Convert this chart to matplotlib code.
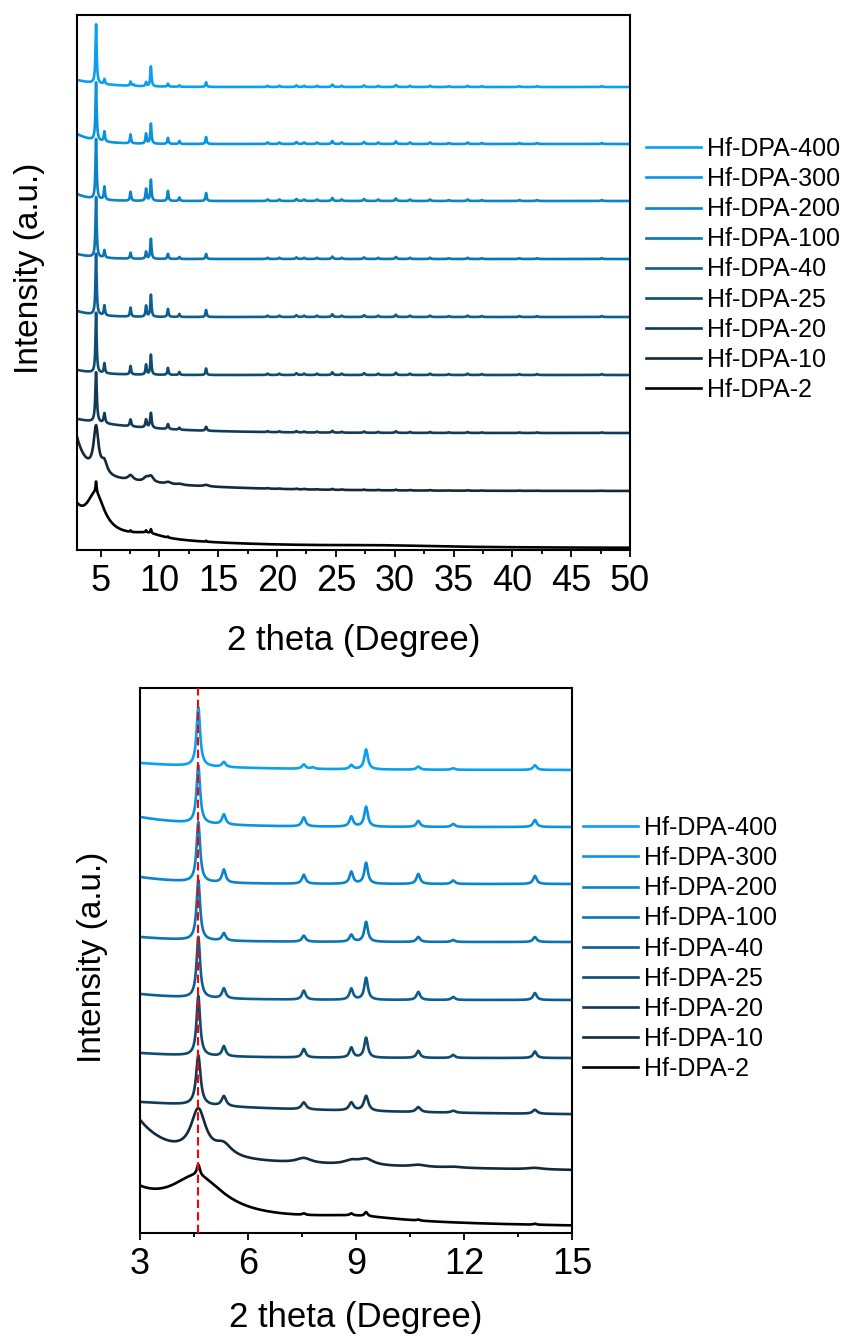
import numpy as np
import matplotlib
matplotlib.use('Agg')
import matplotlib.pyplot as plt
from matplotlib.ticker import MultipleLocator

plt.rcParams['font.family'] = ['Liberation Sans', 'DejaVu Sans']

# samples, top of the stack first
samples = ['Hf-DPA-400', 'Hf-DPA-300', 'Hf-DPA-200', 'Hf-DPA-100', 'Hf-DPA-40',
           'Hf-DPA-25', 'Hf-DPA-20', 'Hf-DPA-10', 'Hf-DPA-2']
colors = ['#0AA0F0', '#0994E2', '#0A84CC', '#0B74B2', '#0C5F90',
          '#0E4C72', '#123B58', '#14293A', '#000000']

# flat level at high angle and low-angle rise
base = [463, 406, 349, 291, 233, 175, 117, 59, 2]
low_amp = [7, 10, 7, 5, 6, 5, 14, 35, 20]
low_tau = [2.5, 1.6, 1.3, 1.6, 1.6, 2.0, 6.0, 0.8, 0.9]
slow_amp = [0, 0, 0, 0, 0, 0, 0, 18, 16]
slow_tau = [1, 1, 1, 1, 1, 1, 1, 8, 10]

# low-angle reflections (deg) and heights per sample
peak_pos = [4.62, 5.33, 7.55, 7.80, 8.87, 9.28, 10.73, 11.70, 13.97]
peak_h = [
    [59, 5, 4.3, 1.5, 4, 20, 3, 1.5, 4.7],
    [58, 10, 9, 0, 10, 20, 6, 3, 7],
    [60, 13, 9, 0, 12, 21, 10, 3.5, 8],
    [60, 7.5, 6, 0, 7, 20, 5, 2, 5],
    [61, 10, 9, 0, 11, 22, 8, 3, 7],
    [60, 10, 8.5, 0, 10, 20, 7, 3, 6.5],
    [50, 10, 7, 0, 8, 15, 5, 2, 4],
    [44.6, 6, 5, 0, 4, 6, 2, 1, 1.5],
    [11, 0, 1.5, 0, 2, 4, 1, 0, 1],
]
peak_w = [0.06, 0.06, 0.06, 0.06, 0.06, 0.06, 0.075, 0.25, 0.05]

# weak high-angle reflections
hi_pos = [19.2, 20.2, 21.65, 22.3, 23.4, 24.7, 25.5, 27.4, 28.6, 30.1, 31.3,
          33.0, 34.6, 36.2, 37.4, 40.6, 42.1, 47.6]
hi_h = [1.5, 1.5, 2, 1.5, 1.5, 3, 1.5, 2, 1.5, 2.5, 1.5, 1.5, 1, 1.5, 1, 1, 1, 1]
hi_scale = [0.8, 1.0, 1.0, 0.8, 0.9, 0.9, 0.6, 0.3, 0.0]

# broad amorphous humps (centre, height, half width) for the two lowest samples
humps = {
    7: [(5.3, 6, 0.35)],
    8: [(4.6, 38, 0.9), (9.0, 5, 1.5), (29.0, 1.5, 6.0)],
}

ref_line = 4.62


def lor(x, p, h, w):
    return h / (1 + ((x - p) / w) ** 2)


def pattern(i, x):
    y = base[i] + low_amp[i] * np.exp(-(x - 3) / low_tau[i])
    y = y + slow_amp[i] * np.exp(-(x - 3) / slow_tau[i])
    for p, h in zip(peak_pos, peak_h[i]):
        y = y + lor(x, p, h, peak_w[i])
    for p, h in zip(hi_pos, hi_h):
        y = y + lor(x, p, h * hi_scale[i], 0.08)
    for p, h, w in humps.get(i, []):
        y = y + lor(x, p, h, w)
    return y


fig = plt.figure(figsize=(8.42, 13.38), dpi=100)
ax1 = fig.add_axes([77 / 842, 1 - 550 / 1338, 553 / 842, 535 / 1338])
ax2 = fig.add_axes([140 / 842, 1 - 1233 / 1338, 432 / 842, 545 / 1338])

x1 = np.linspace(3, 50, 4701)
x2 = np.linspace(3, 15, 2401)
lines = []
for i in range(len(samples)):
    l, = ax1.plot(x1, pattern(i, x1), color=colors[i], lw=1.9, label=samples[i])
    ax2.plot(x2, pattern(i, x2), color=colors[i], lw=1.9)
    lines.append(l)

ax2.axvline(ref_line, color='red', lw=1.5, dashes=(4, 2), zorder=5)

ax1.set_xlim(3, 50)
ax1.set_ylim(0, 535)
ax1.xaxis.set_major_locator(MultipleLocator(5))
ax1.xaxis.set_minor_locator(MultipleLocator(2.5))
ax2.set_xlim(3, 15)
ax2.set_ylim(0, 545)
ax2.xaxis.set_major_locator(MultipleLocator(3))
ax2.xaxis.set_minor_locator(MultipleLocator(1.5))

for ax, lp in [(ax1, 18), (ax2, 14)]:
    ax.set_yticks([])
    for s in ax.spines.values():
        s.set_linewidth(1.5)
    ax.tick_params(axis='x', which='major', direction='out', length=5,
                   width=1.3, labelsize=26, pad=5)
    ax.tick_params(axis='x', which='minor', direction='out', length=3, width=1.3)
    ax.set_xlabel('2 theta (Degree)', fontsize=25, labelpad=lp)

fig.text(30 / 842, 1 - 268 / 1338, 'Intensity (a.u.)', rotation=90,
         fontsize=24, ha='center', va='center')
fig.text(92 / 842, 1 - 957 / 1338, 'Intensity (a.u.)', rotation=90,
         fontsize=24, ha='center', va='center')

for anchor in [(646 / 842, 1 - 137 / 1338), (583 / 842, 1 - 816 / 1338)]:
    fig.legend(handles=lines, loc='upper left', bbox_to_anchor=anchor,
               frameon=False, fontsize=18, handlelength=2.2, handletextpad=0.25,
               labelspacing=0.245, borderpad=0, borderaxespad=0)

fig.savefig('out.png', dpi=100)
